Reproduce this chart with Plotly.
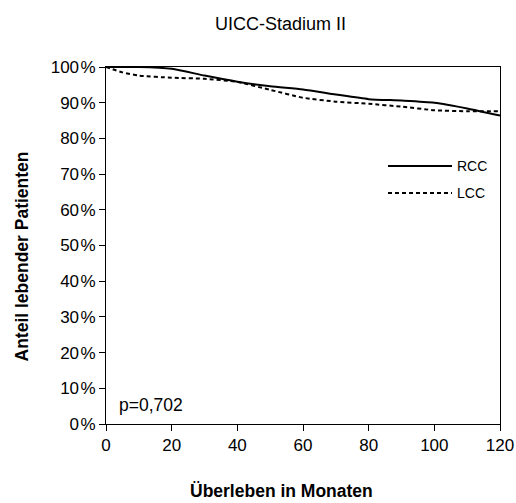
import plotly.graph_objects as go

months_rcc = [0, 10, 20, 30, 40, 50, 60, 70, 80, 90, 100, 110, 120]
surv_rcc = [100, 100, 99.5, 97.6, 95.9, 94.6, 93.7, 92.3, 91.0, 90.6, 90.0, 88.4, 86.4]

months_lcc = [0, 5, 10, 20, 30, 40, 50, 60, 70, 80, 90, 100, 110, 120]
surv_lcc = [100, 98.5, 97.6, 97.0, 96.7, 95.8, 93.6, 91.4, 90.3, 89.7, 88.9, 87.9, 87.6, 87.6]

x_ticks = [0, 20, 40, 60, 80, 100, 120]
y_ticks = [0, 10, 20, 30, 40, 50, 60, 70, 80, 90, 100]
y_tick_labels = [f"{v}\u200a%" for v in y_ticks]

FONT = "Liberation Sans, Arial, Helvetica, sans-serif"

L, R, T, B = 106, 16, 67, 79
PW, PH = 516 - L - R, 503 - T - B


def px(x):
    return (x - L) / PW


def py(y):
    return (503 - B - y) / PH


fig = go.Figure()
fig.add_trace(go.Scatter(x=months_rcc, y=surv_rcc, mode="lines", name="RCC",
                         line=dict(color="black", width=2, shape="spline", smoothing=0.6)))
fig.add_trace(go.Scatter(x=months_lcc, y=surv_lcc, mode="lines", name="LCC",
                         line=dict(color="black", width=2, dash="4px,3px", shape="spline", smoothing=0.6)))

fig.update_layout(
    width=516, height=503,
    margin=dict(l=L, r=R, t=T, b=B, autoexpand=False),
    paper_bgcolor="white", plot_bgcolor="white",
    showlegend=False,
    font=dict(family=FONT, size=15, color="black"),
    xaxis=dict(range=[0, 120], tickvals=x_ticks, ticks="outside", ticklen=6, tickwidth=1,
               tickcolor="black", showline=True, linecolor="black", linewidth=1, mirror=True,
               showgrid=False, zeroline=False, tickfont=dict(size=17), automargin=False),
    yaxis=dict(range=[0, 100], tickvals=y_ticks, ticktext=y_tick_labels, ticks="outside",
               ticklen=6, tickwidth=1, tickcolor="black", showline=True, linecolor="black",
               linewidth=1, mirror=True, showgrid=False, zeroline=False, tickfont=dict(size=17),
               automargin=False),
)

# Title and axis titles
fig.add_annotation(text="UICC-Stadium II", xref="paper", yref="paper", x=px(280), y=py(24),
                   showarrow=False, font=dict(size=18), xanchor="center", yanchor="middle")
fig.add_annotation(text="<b>Überleben in Monaten</b>", xref="paper", yref="paper", x=px(281),
                   y=py(491), showarrow=False, font=dict(size=17.5), xanchor="center", yanchor="middle")
fig.add_annotation(text="<b>Anteil lebender Patienten</b>", xref="paper", yref="paper", x=px(21.5),
                   y=py(257), showarrow=False, textangle=-90, font=dict(size=17.5),
                   xanchor="center", yanchor="middle")
fig.add_annotation(text="p=0,702", xref="paper", yref="paper", x=px(117), y=py(405),
                   showarrow=False, font=dict(size=17.5), xanchor="left", yanchor="middle")

# Legend (manual)
for i, (name, dash) in enumerate([("RCC", "solid"), ("LCC", "4px,3px")]):
    yp = py(166 + 27 * i)
    fig.add_shape(type="line", xref="paper", yref="paper", x0=px(388), x1=px(452),
                  y0=yp, y1=yp, line=dict(color="black", width=2, dash=dash))
    fig.add_annotation(text=name, xref="paper", yref="paper", x=px(455), y=yp,
                       showarrow=False, font=dict(size=14), xanchor="left", yanchor="middle")

fig.write_html("out.html")
